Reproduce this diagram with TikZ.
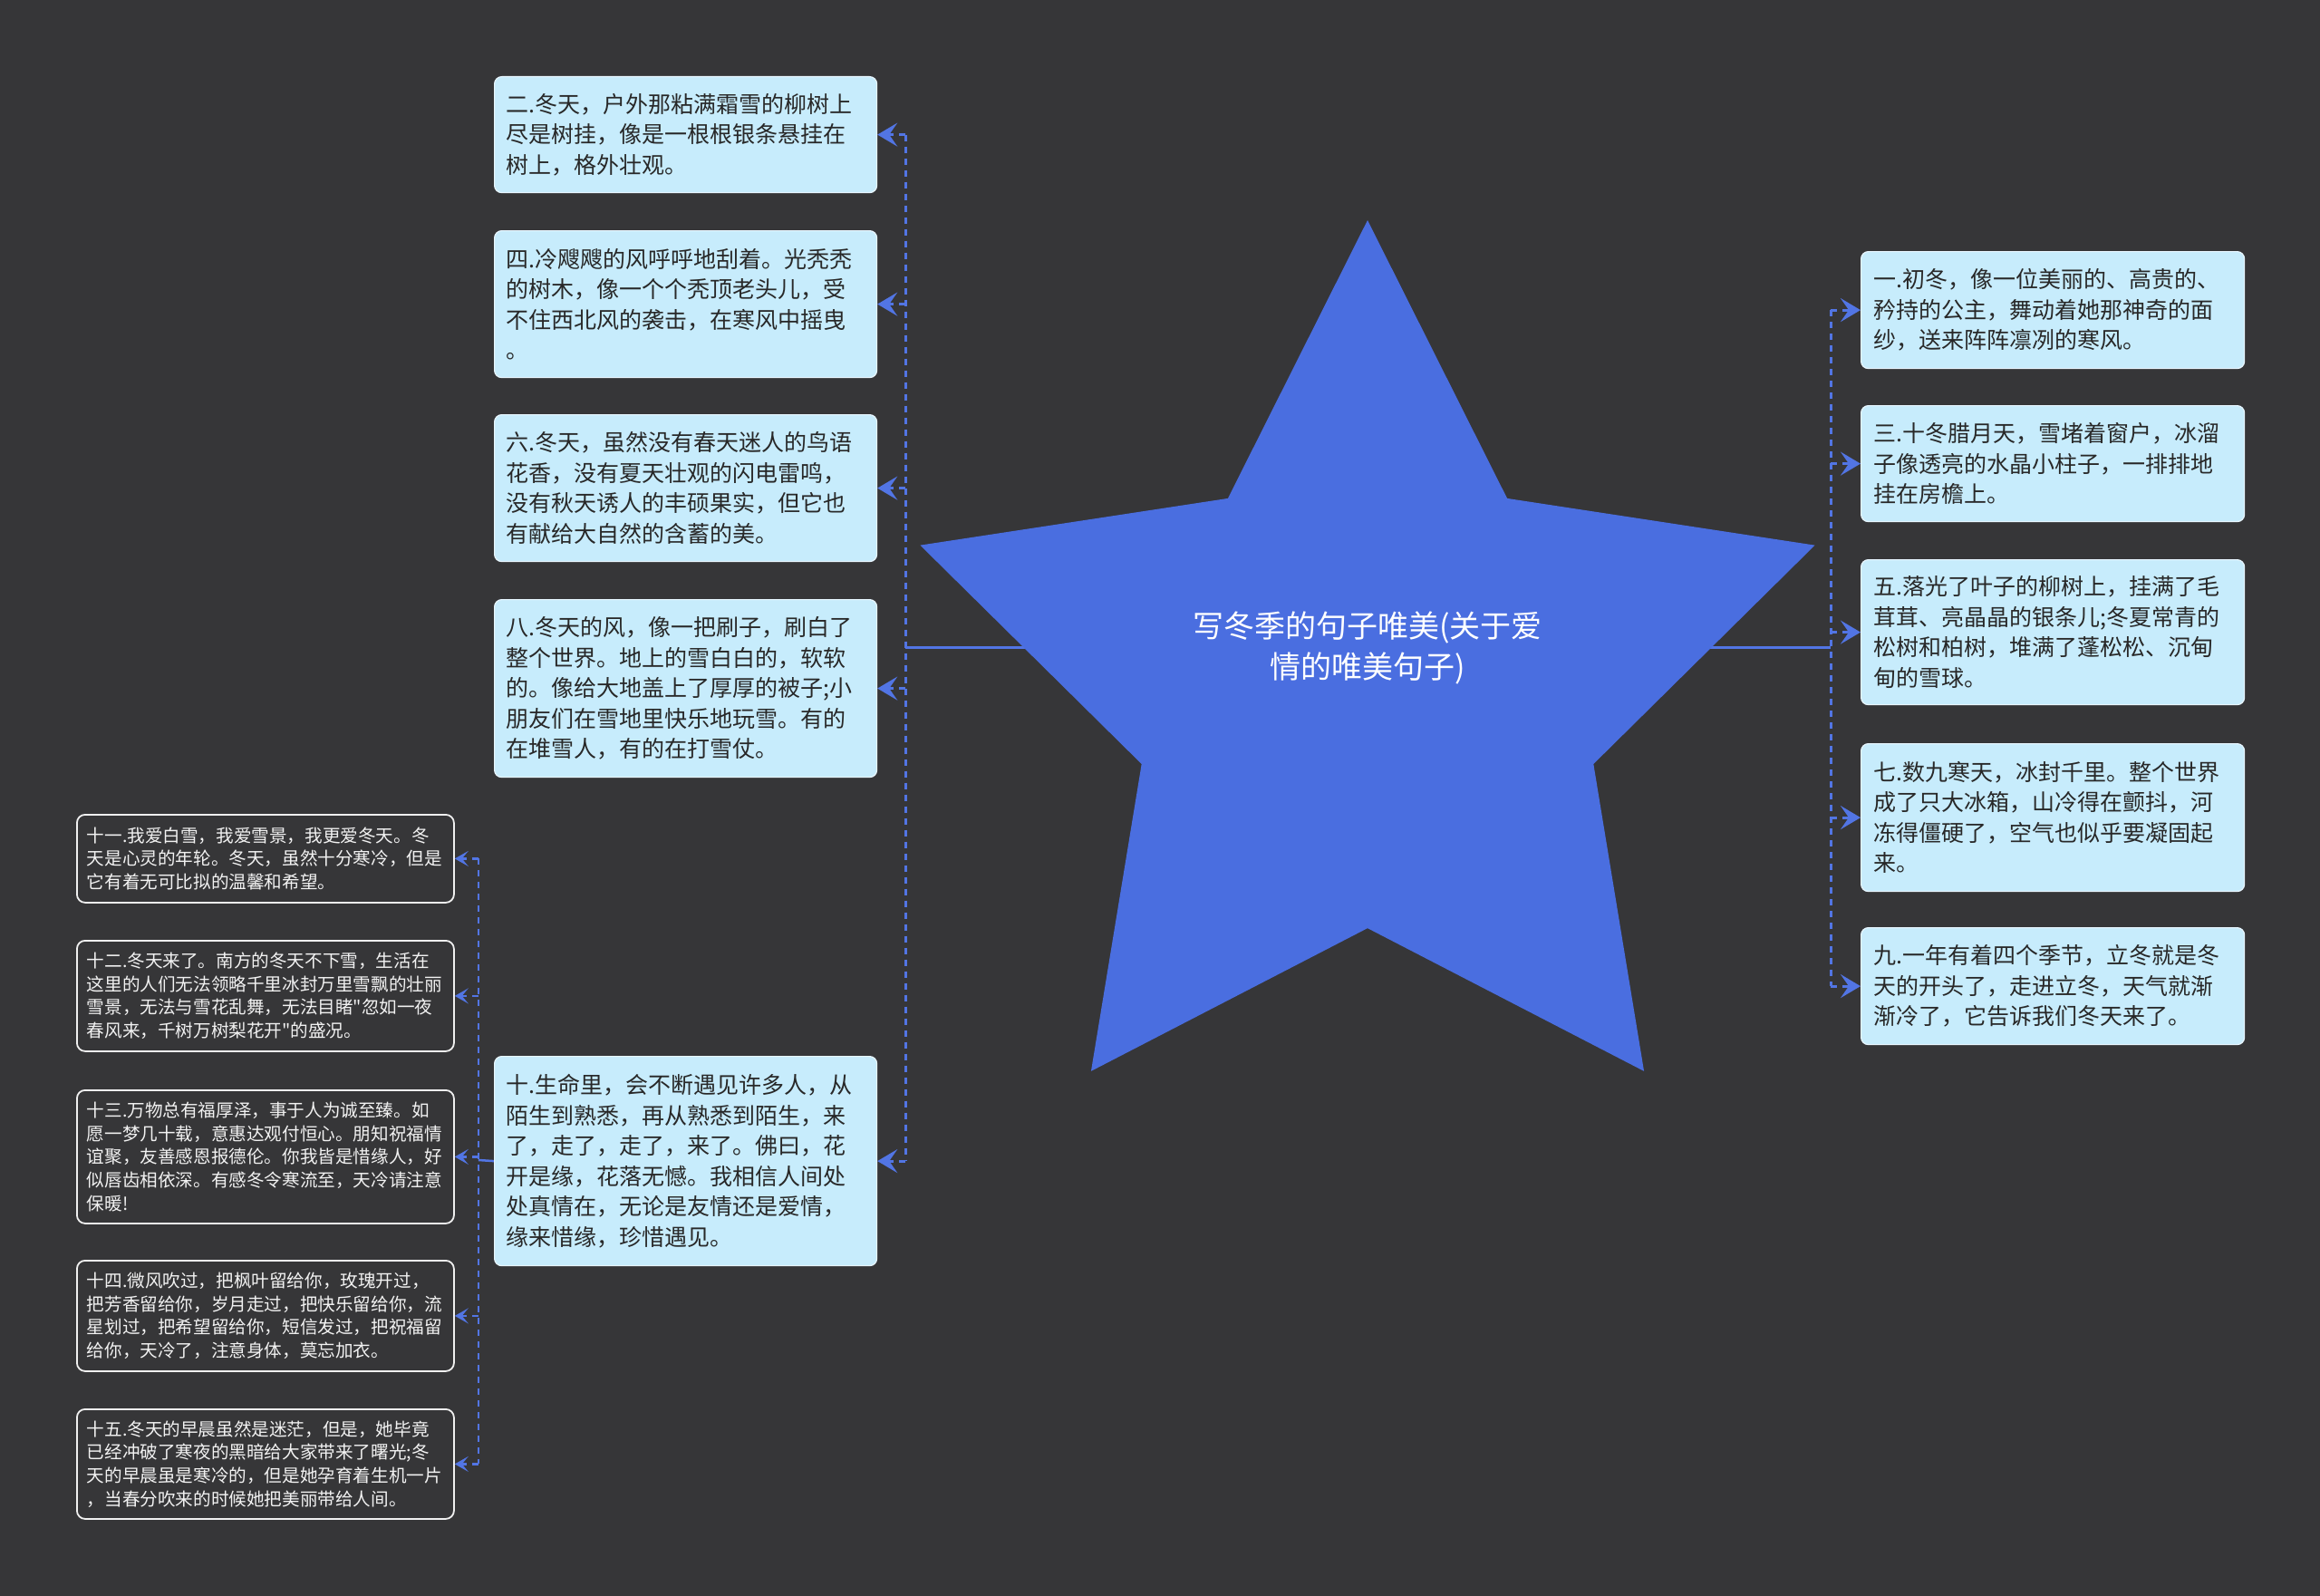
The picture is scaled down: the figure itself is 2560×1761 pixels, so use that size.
\documentclass[tikz,border=0pt]{standalone}
\usepackage{fontspec}
\newfontfamily\cjk{Noto Sans CJK SC}
\usetikzlibrary{shapes.geometric,arrows.meta}
\definecolor{bgc}{RGB}{54,54,56}
\definecolor{starc}{RGB}{74,110,224}
\definecolor{linec}{RGB}{82,117,228}
\definecolor{boxfill}{RGB}{199,236,252}
\definecolor{boxedge}{RGB}{232,246,255}
\definecolor{textdark}{RGB}{40,40,40}
\pgfdeclarelayer{back}
\pgfdeclarelayer{conn}
\pgfsetlayers{back,conn,main}
\begin{document}
\begin{tikzpicture}[x=1pt,y=-1pt,
  lbox/.style={draw=boxedge, line width=1.2pt, fill=boxfill, rounded corners=8pt,
    text=textdark, font=\cjk\fontsize{25pt}{33.5pt}\selectfont,
    text width=396pt, align=left, inner xsep=13pt, inner ysep=0pt, anchor=north west},
  rbox/.style={lbox, text width=395pt, inner xsep=14pt},
  dbox/.style={draw=white!94!black, line width=1.8pt, fill=bgc, rounded corners=9pt,
    text=white!95!black, font=\cjk\fontsize{19.6pt}{25.6pt}\selectfont,
    text width=394pt, align=left, inner xsep=11pt, inner ysep=0pt, anchor=north west},
  titlestyle/.style={text=white, font=\cjk\fontsize{34pt}{45pt}\selectfont, align=center, inner sep=0pt},
  hubline/.style={draw=linec, line width=3pt},
  spine/.style={draw=linec, line width=3pt, dash pattern=on 7pt off 6pt},
  branch/.style={draw=linec, line width=3pt, dash pattern=on 7pt off 6pt,
    -{Stealth[length=22pt, width=26pt, inset=9pt]}},
  sspine/.style={draw=linec, line width=2.5pt, dash pattern=on 7pt off 6pt},
  sbranch/.style={draw=linec, line width=2.5pt, dash pattern=on 7pt off 6pt,
    -{Stealth[length=15pt, width=17pt, inset=7pt]}},
]
\begin{pgfonlayer}{back}
\fill[bgc] (0,0) rectangle (2560,1761);
\end{pgfonlayer}
\useasboundingbox (0,0) rectangle (2560,1761);

% central star and title
\node[star, star points=5, star point ratio=1.98, minimum size=1038pt, inner sep=0pt,
      fill=starc, draw=none] (star) at (1509,762) {};
\node[titlestyle] (title) at (1509,715) {写冬季的句子唯美(关于爱\\情的唯美句子)};

% junction coordinates
\coordinate (ls) at (999,714);
\coordinate (rs) at (2020,714);
\coordinate (ms) at (528,1280);

% left blue boxes
\node[lbox, minimum height=128pt] (b2) at (545,84) {二.冬天，户外那粘满霜雪的柳树上\\尽是树挂，像是一根根银条悬挂在\\树上，格外壮观。};
\node[lbox, minimum height=162pt] (b4) at (545,254) {四.冷飕飕的风呼呼地刮着。光秃秃\\的树木，像一个个秃顶老头儿，受\\不住西北风的袭击，在寒风中摇曳\\。};
\node[lbox, minimum height=162pt] (b6) at (545,457) {六.冬天，虽然没有春天迷人的鸟语\\花香，没有夏天壮观的闪电雷鸣，\\没有秋天诱人的丰硕果实，但它也\\有献给大自然的含蓄的美。};
\node[lbox, minimum height=196pt] (b8) at (545,661) {八.冬天的风，像一把刷子，刷白了\\整个世界。地上的雪白白的，软软\\的。像给大地盖上了厚厚的被子;小\\朋友们在雪地里快乐地玩雪。有的\\在堆雪人，有的在打雪仗。};
\node[lbox, minimum height=231pt] (b10) at (545,1165) {十.生命里，会不断遇见许多人，从\\陌生到熟悉，再从熟悉到陌生，来\\了，走了，走了，来了。佛曰，花\\开是缘，花落无憾。我相信人间处\\处真情在，无论是友情还是爱情，\\缘来惜缘，珍惜遇见。};

% right blue boxes
\node[rbox, minimum height=129pt] (b1) at (2053,277) {一.初冬，像一位美丽的、高贵的、\\矜持的公主，舞动着她那神奇的面\\纱，送来阵阵凛冽的寒风。};
\node[rbox, minimum height=128pt] (b3) at (2053,447) {三.十冬腊月天，雪堵着窗户，冰溜\\子像透亮的水晶小柱子，一排排地\\挂在房檐上。};
\node[rbox, minimum height=160pt] (b5) at (2053,617) {五.落光了叶子的柳树上，挂满了毛\\茸茸、亮晶晶的银条儿;冬夏常青的\\松树和柏树，堆满了蓬松松、沉甸\\甸的雪球。};
\node[rbox, minimum height=163pt] (b7) at (2053,820) {七.数九寒天，冰封千里。整个世界\\成了只大冰箱，山冷得在颤抖，河\\冻得僵硬了，空气也似乎要凝固起\\来。};
\node[rbox, minimum height=129pt] (b9) at (2053,1023) {九.一年有着四个季节，立冬就是冬\\天的开头了，走进立冬，天气就渐\\渐冷了，它告诉我们冬天来了。};

% dark boxes
\node[dbox, minimum height=97pt] (b11) at (84,898) {十一.我爱白雪，我爱雪景，我更爱冬天。冬\\天是心灵的年轮。冬天，虽然十分寒冷，但是\\它有着无可比拟的温馨和希望。};
\node[dbox, minimum height=122pt] (b12) at (84,1037) {十二.冬天来了。南方的冬天不下雪，生活在\\这里的人们无法领略千里冰封万里雪飘的壮丽\\雪景，无法与雪花乱舞，无法目睹"忽如一夜\\春风来，千树万树梨花开"的盛况。};
\node[dbox, minimum height=147pt] (b13) at (84,1202) {十三.万物总有福厚泽，事于人为诚至臻。如\\愿一梦几十载，意惠达观付恒心。朋知祝福情\\谊聚，友善感恩报德伦。你我皆是惜缘人，好\\似唇齿相依深。有感冬令寒流至，天冷请注意\\保暖!};
\node[dbox, minimum height=122pt] (b14) at (84,1390) {十四.微风吹过，把枫叶留给你，玫瑰开过，\\把芳香留给你，岁月走过，把快乐留给你，流\\星划过，把希望留给你，短信发过，把祝福留\\给你，天冷了，注意身体，莫忘加衣。};
\node[dbox, minimum height=121pt] (b15) at (84,1554) {十五.冬天的早晨虽然是迷茫，但是，她毕竟\\已经冲破了寒夜的黑暗给大家带来了曙光;冬\\天的早晨虽是寒冷的，但是她孕育着生机一片\\，当春分吹来的时候她把美丽带给人间。};

\begin{pgfonlayer}{conn}
% hub line through the star
\draw[hubline] (ls) -- (rs);
% left spine
\draw[spine] (ls |- b2.east) -- (ls |- b10.east);
\foreach \b in {b2,b4,b6,b8,b10}
  \draw[branch] (ls |- \b.east) -- (\b.east);
% right spine
\draw[spine] (rs |- b1.west) -- (rs |- b9.west);
\foreach \b in {b1,b3,b5,b7,b9}
  \draw[branch] (rs |- \b.west) -- (\b.west);
% lower-left sub branch
\draw[hubline, line width=2.5pt] (b10.west) -- (ms);
\draw[sspine] (ms |- b11.east) -- (ms |- b15.east);
\foreach \b in {b11,b12,b13,b14,b15}
  \draw[sbranch] (ms |- \b.east) -- (\b.east);
\end{pgfonlayer}
\end{tikzpicture}
\end{document}
